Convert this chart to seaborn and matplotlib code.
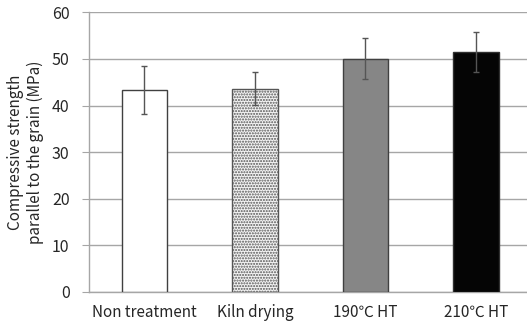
import matplotlib
matplotlib.use("Agg")
import matplotlib.pyplot as plt
import seaborn as sns
import pandas as pd
import numpy as np

categories = ["Non treatment", "Kiln drying", "190\u2103 HT", "210\u2103 HT"]
strength = [43.3, 43.6, 50.0, 51.5]
errors = [5.1, 3.5, 4.4, 4.3]
colors = ["#ffffff", "#f4f4f4", "#868686", "#050505"]
yticks = [0, 10, 20, 30, 40, 50, 60]

sns.set_style("white")
plt.rcParams['font.family'] = ['Noto Sans CJK KR', 'DejaVu Sans']

df = pd.DataFrame({"cat": categories, "val": strength})

fig = plt.figure(figsize=(5.27, 3.26), dpi=100)
ax = fig.add_axes([0.169, 0.105, 0.835, 0.857])

sns.barplot(data=df, x="cat", y="val", hue="cat", palette=colors, legend=False,
            width=0.41, edgecolor="#404040", linewidth=1.0, ax=ax, errorbar=None, zorder=3)
for i, p in enumerate(ax.patches):
    if i == 1:
        p.set_hatch("......")
        p.set_edgecolor("#555555")
    if i == 3:
        p.set_edgecolor("#303030")

ax.errorbar(categories, strength, yerr=errors, fmt="none", ecolor="#555555",
            elinewidth=1.0, capsize=2.5, capthick=1.0, zorder=4)

ax.set_ylim(0, 60)
ax.set_xlim(-0.5, 3.48)
ax.set_yticks(yticks)
ax.yaxis.grid(True, color="#a6a6a6", linewidth=1.0, zorder=0)
ax.set_axisbelow(True)
for s in ["top", "right"]:
    ax.spines[s].set_visible(False)
for s in ["left", "bottom"]:
    ax.spines[s].set_color("#a6a6a6")
    ax.spines[s].set_linewidth(1.0)

ax.set_xticks(range(len(categories)))
ax.set_xticklabels(categories, fontsize=11)
ax.set_xticks([-0.5, 0.5, 1.5, 2.5], minor=True)
ax.tick_params(axis="x", which="major", length=0, pad=9)
ax.tick_params(axis="x", which="minor", length=4, color="#a6a6a6", direction="out")
ax.tick_params(axis="y", length=5, color="#a6a6a6", direction="out", labelsize=11.5, pad=9, left=True)
ax.set_xlabel("")
ax.set_ylabel("Compressive strength\nparallel to the grain (MPa)", fontsize=11, labelpad=6)

fig.savefig("out.png", dpi=100)
